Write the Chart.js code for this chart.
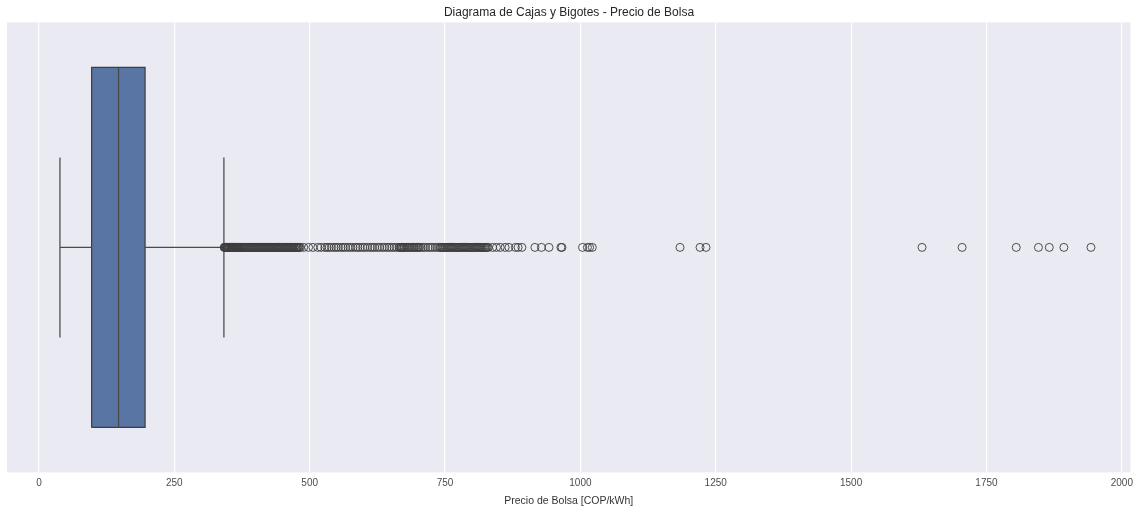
<!DOCTYPE html>
<html>
<head>
<meta charset="utf-8">
<script src="https://cdn.jsdelivr.net/npm/chart.js@4/dist/chart.umd.min.js"></script>
<style>
    html, body { margin: 0; padding: 0; background: #ffffff; }
    #wrap { width: 1138px; height: 510px; }
</style>
</head>
<body>
<div id="wrap"><canvas id="box_chart" width="1138" height="510"></canvas></div>
<script>
// resumen del precio de bolsa (COP/kWh)
var whiskerLow = 38.8;
var q1 = 97.3;
var median = 147;
var q3 = 196;
var whiskerHigh = 341.6;

// valores atipicos por encima del bigote superior
var outliers = [
    342, 343, 344, 345, 346, 347, 348, 349, 350, 351, 352, 353, 354, 355, 356, 357, 358, 359, 360,
    361, 362, 363, 364, 365, 366, 367, 368, 369, 370, 372, 373, 375, 376, 378, 379, 381, 382, 384,
    385, 387, 388, 390, 391, 393, 394, 396, 397, 399, 400, 402, 403, 405, 406, 408, 409, 411, 412,
    414, 415, 417, 418, 420, 421, 423, 424, 426, 427, 429, 430, 432, 433, 435, 436, 438, 439, 441,
    442, 444, 445, 447, 448, 450, 451, 453, 454, 456, 457, 459, 460, 462, 463, 465, 466, 468, 469,
    471, 472, 474, 475, 477, 478, 480, 481, 483,
    489, 498, 506, 515, 521,
    528, 532, 536, 540, 545, 549, 553, 558, 562, 566, 571, 575, 580, 585, 589, 593, 598, 602, 607,
    612, 616, 620, 625, 629, 634, 638, 643, 647, 652, 656, 661, 665, 667, 669, 670, 672, 674, 676,
    679, 681, 683, 685, 688, 690, 692, 694, 697, 699, 701, 703, 706, 710, 714, 719, 723, 727, 732, 736,
    740, 742, 744, 746, 748, 750, 752, 754, 756, 758, 760, 762, 764, 766, 768, 770, 772, 774, 776,
    778, 780, 782, 784, 786, 788, 790, 792, 794, 796, 798, 800, 802, 804, 806, 808, 810, 812, 814,
    816, 818, 820, 822, 824, 826, 828, 830,
    838, 845, 852, 861, 868, 880, 885, 892, 916, 928, 942, 964, 966,
    1004, 1013, 1017, 1022, 1184, 1221, 1232,
    1631, 1705, 1805, 1846, 1866, 1893, 1943
];

var xTicks = [0, 250, 500, 750, 1000, 1250, 1500, 1750, 2000];

var boxHalf = 0.4;
var capHalf = 0.2;
var edgeColor = '#3f3f3f';

var plotBackground = {
    id: 'plotBackground',
    beforeDraw: function (chart) {
        var a = chart.chartArea;
        var ctx = chart.ctx;
        ctx.save();
        ctx.fillStyle = '#eaeaf2';
        ctx.fillRect(a.left, a.top, a.right - a.left, a.bottom - a.top);
        ctx.restore();
    }
};

function segment(x0, y0, x1, y1) {
    return {
        type: 'line',
        data: [{ x: x0, y: y0 }, { x: x1, y: y1 }],
        borderColor: '#4a4a4a',
        borderWidth: 1.25,
        pointRadius: 0,
        fill: false
    };
}

var datasets = [{
    type: 'scatter',
    label: 'atipicos',
    data: outliers.map(function (v) { return { x: v, y: 0 }; }),
    pointStyle: 'circle',
    pointRadius: 4,
    borderWidth: 1,
    borderColor: 'rgba(61, 61, 61, 0.9)',
    backgroundColor: 'rgba(0, 0, 0, 0)'
},
    segment(median, -boxHalf, median, boxHalf),
    segment(whiskerLow, 0, q1, 0),
    segment(q3, 0, whiskerHigh, 0),
    segment(whiskerLow, -capHalf, whiskerLow, capHalf),
    segment(whiskerHigh, -capHalf, whiskerHigh, capHalf),
{
    type: 'line',
    label: 'caja',
    data: [
        { x: q1, y: -boxHalf }, { x: q3, y: -boxHalf }, { x: q3, y: boxHalf },
        { x: q1, y: boxHalf }, { x: q1, y: -boxHalf }
    ],
    borderColor: edgeColor,
    borderWidth: 1.25,
    backgroundColor: 'rgb(89, 117, 164)',
    pointRadius: 0,
    fill: 'shape'
}];

new Chart(document.getElementById('box_chart').getContext('2d'), {
    type: 'scatter',
    data: { datasets: datasets },
    plugins: [plotBackground],
    options: {
        responsive: false,
        animation: false,
        events: [],
        layout: { padding: { left: 7, right: 7, top: 0, bottom: 3 } },
        plugins: {
            legend: { display: false },
            tooltip: { enabled: false },
            title: {
                display: true,
                text: 'Diagrama de Cajas y Bigotes - Precio de Bolsa',
                color: '#262626',
                font: { family: 'Liberation Sans, Arial, sans-serif', size: 12, weight: 'normal' },
                padding: { top: 5, bottom: 3 }
            }
        },
        scales: {
            x: {
                type: 'linear',
                min: -59,
                max: 2016,
                afterBuildTicks: function (axis) {
                    axis.ticks = xTicks.map(function (v) { return { value: v }; });
                },
                ticks: {
                    color: '#4d4d4d',
                    padding: 5,
                    font: { family: 'Liberation Sans, Arial, sans-serif', size: 10 },
                    callback: function (v) { return String(v); }
                },
                grid: { color: '#ffffff', lineWidth: 1.2, drawTicks: false },
                border: { display: false },
                title: {
                    display: true,
                    text: 'Precio de Bolsa [COP/kWh]',
                    color: '#333333',
                    font: { family: 'Liberation Sans, Arial, sans-serif', size: 10.5 },
                    padding: { top: 0, bottom: 0 }
                }
            },
            y: {
                type: 'linear',
                min: -0.5,
                max: 0.5,
                display: false
            }
        }
    }
});
</script>
</body>
</html>
